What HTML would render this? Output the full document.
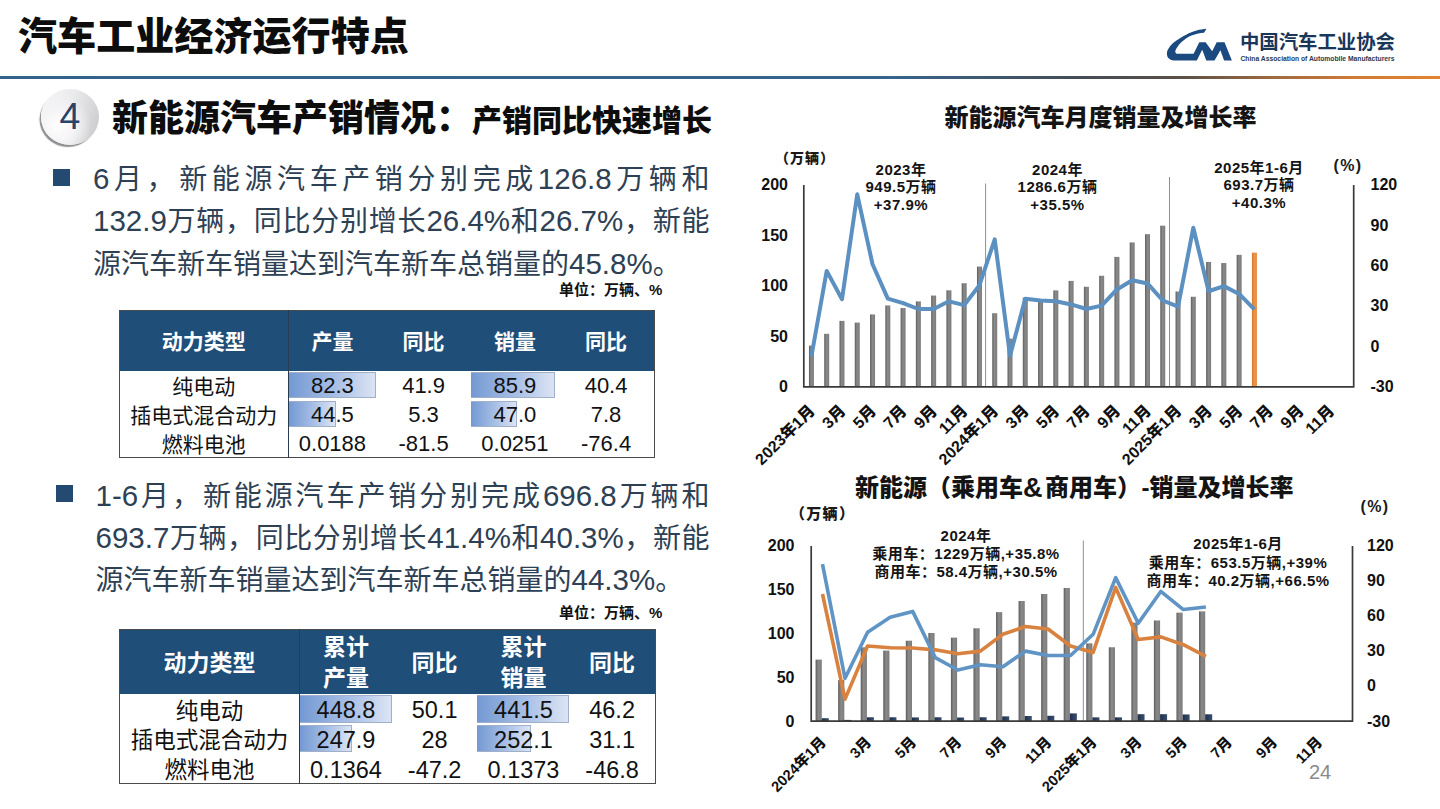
<!DOCTYPE html>
<html lang="zh-CN"><head><meta charset="utf-8"><title>汽车工业经济运行特点</title>
<style>
*{margin:0;padding:0;box-sizing:border-box}
html,body{width:1440px;height:809px;overflow:hidden;background:#fff}
body{position:relative;font-family:"Liberation Sans", "Noto Sans CJK SC", sans-serif;color:#111}
.abs{position:absolute;white-space:nowrap}
#title{left:18px;top:12.5px;font-size:39.1px;font-weight:900;line-height:48px;color:#0d0d0d}
#rule{left:0;top:76px;width:1440px;height:3px;background:linear-gradient(90deg,#35628a 0%,#37648c 62%,#454c55 75%,#5a5048 82%,#9a6840 88%,#d07a35 94%,#e4832e 100%)}
#circ{left:41px;top:88.5px;width:58px;height:56px;border-radius:50%;
  background:radial-gradient(circle at 30% 65%,#ffffff 0%,#f4f4f6 30%,rgba(230,230,233,0) 60%),linear-gradient(110deg,#f6f6f7 0%,#eaeaec 45%,#d4d4d7 80%,#c8c8cb 100%);
  box-shadow:-2px 2.5px 1px -0.5px rgba(70,70,70,.6)}
#circ span{position:absolute;left:0;width:58px;top:7px;text-align:center;font-family:"Liberation Sans",sans-serif;font-size:37.5px;line-height:40px;color:#2a4469}
#head{left:112px;top:96px;font-size:36px;font-weight:900;line-height:46px;color:#0d0d0d}
#head small{font-size:30px}
.bul{position:absolute;width:17px;height:17px;background:#254a72}
.para{position:absolute;width:620px;font-size:28px;line-height:42.3px;color:#2e4154}
.para div{text-align:justify;text-align-last:justify;white-space:nowrap}
.para div.last{text-align-last:left}
.para .n{font-size:29.5px;line-height:0}
.unit{font-size:15px;font-weight:700;color:#111;line-height:18px}
table{position:absolute;border-collapse:collapse;table-layout:fixed}
th{background:#1f4e79;color:#fff;font-weight:700;text-align:center;padding:2.5px 0 0 0;border:none}
td{text-align:center;padding:0;color:#111;position:relative;border:none}
td .bar{position:absolute;left:0;border:1px solid #9fb0c8;border-left:none;background:linear-gradient(90deg,#7399d3 0%,#a9c0e6 55%,#dce4f3 100%)}
td span{position:relative;top:2.5px}
.tb{border:1.5px solid #4a4a4a}
.c1{border-right:1.5px solid #2a3a50 !important}
</style></head><body>
<div id="title" class="abs">汽车工业经济运行特点</div>
<div id="rule" class="abs"></div>
<div id="circ" class="abs"><span>4</span></div>
<div id="head" class="abs">新能源汽车产销情况：<small>产销同比快速增长</small></div>

<div class="bul" style="left:53px;top:169px"></div>
<div class="para" style="left:93px;top:159px;width:616.5px">
<div><span class="n">6</span>月，新能源汽车产销分别完成<span class="n">126.8</span>万辆和</div>
<div><span class="n">132.9</span>万辆，同比分别增长<span class="n">26.4%</span>和<span class="n">26.7%</span>，新能</div>
<div class="last">源汽车新车销量达到汽车新车总销量的<span class="n">45.8%</span>。</div>
</div>
<div class="abs unit" style="left:559px;top:281px">单位：万辆、%</div>

<table class="tb" style="left:118.5px;top:309.5px;width:535.0px"><colgroup><col style="width:169.5px"><col style="width:91.375px"><col style="width:91.375px"><col style="width:91.375px"><col style="width:91.375px"></colgroup><tr style="height:60.5px"><th class="c1" style="font-size:21px;line-height:30.4px">动力类型</th><th style="font-size:21px;line-height:30.4px"><span style="position:relative;left:-2px">产量</span></th><th style="font-size:21px;line-height:30.4px"><span style="position:relative;left:-2px">同比</span></th><th style="font-size:21px;line-height:30.4px"><span style="position:relative;left:-2px">销量</span></th><th style="font-size:21px;line-height:30.4px"><span style="position:relative;left:-2px">同比</span></th></tr><tr style="height:28.8px"><td class="c1" style="font-size:21px;line-height:28.8px"><span>纯电动</span></td><td style="font-size:22px;line-height:28.8px"><div class="bar" style="width:87px;top:1.5px;height:26px"></div><span style="left:-2px;top:1.5px">82.3</span></td><td style="font-size:22px;line-height:28.8px"><span style="left:-2px;top:1.5px">41.9</span></td><td style="font-size:22px;line-height:28.8px"><div class="bar" style="width:83.5px;top:1.5px;height:26px"></div><span style="left:-2px;top:1.5px">85.9</span></td><td style="font-size:22px;line-height:28.8px"><span style="left:-2px;top:1.5px">40.4</span></td></tr><tr style="height:28.8px"><td class="c1" style="font-size:21px;line-height:28.8px"><span>插电式混合动力</span></td><td style="font-size:22px;line-height:28.8px"><div class="bar" style="width:47px;top:1.5px;height:26px"></div><span style="left:-2px;top:1.5px">44.5</span></td><td style="font-size:22px;line-height:28.8px"><span style="left:-2px;top:1.5px">5.3</span></td><td style="font-size:22px;line-height:28.8px"><div class="bar" style="width:45.5px;top:1.5px;height:26px"></div><span style="left:-2px;top:1.5px">47.0</span></td><td style="font-size:22px;line-height:28.8px"><span style="left:-2px;top:1.5px">7.8</span></td></tr><tr style="height:28.8px"><td class="c1" style="font-size:21px;line-height:28.8px"><span>燃料电池</span></td><td style="font-size:22px;line-height:28.8px"><span style="left:-2px;top:1.5px">0.0188</span></td><td style="font-size:22px;line-height:28.8px"><span style="left:-2px;top:1.5px">-81.5</span></td><td style="font-size:22px;line-height:28.8px"><span style="left:-2px;top:1.5px">0.0251</span></td><td style="font-size:22px;line-height:28.8px"><span style="left:-2px;top:1.5px">-76.4</span></td></tr></table>

<div class="bul" style="left:56px;top:485px"></div>
<div class="para" style="left:95.5px;top:475.5px;width:614px">
<div><span class="n">1-6</span>月，新能源汽车产销分别完成<span class="n">696.8</span>万辆和</div>
<div><span class="n">693.7</span>万辆，同比分别增长<span class="n">41.4%</span>和<span class="n">40.3%</span>，新能</div>
<div class="last">源汽车新车销量达到汽车新车总销量的<span class="n">44.3%</span>。</div>
</div>
<div class="abs unit" style="left:559px;top:604px">单位：万辆、%</div>

<table class="tb" style="left:119px;top:628.5px;width:535.5px"><colgroup><col style="width:180px"><col style="width:88.875px"><col style="width:88.875px"><col style="width:88.875px"><col style="width:88.875px"></colgroup><tr style="height:64.5px"><th class="c1" style="font-size:23px;line-height:31.0px">动力类型</th><th style="font-size:23px;line-height:31.0px"><span style="position:relative;left:1.8px">累计<br>产量</span></th><th style="font-size:23px;line-height:31.0px"><span style="position:relative;left:1.8px">同比</span></th><th style="font-size:23px;line-height:31.0px"><span style="position:relative;left:1.8px">累计<br>销量</span></th><th style="font-size:23px;line-height:31.0px"><span style="position:relative;left:1.8px">同比</span></th></tr><tr style="height:29.8px"><td class="c1" style="font-size:22.5px;line-height:29.8px"><span>纯电动</span></td><td style="font-size:23.5px;line-height:29.8px"><div class="bar" style="width:92px;top:1px;height:27.5px"></div><span style="left:1.8px;top:2.0px">448.8</span></td><td style="font-size:23.5px;line-height:29.8px"><span style="left:1.8px;top:2.0px">50.1</span></td><td style="font-size:23.5px;line-height:29.8px"><div class="bar" style="width:92px;top:1px;height:27.5px"></div><span style="left:1.8px;top:2.0px">441.5</span></td><td style="font-size:23.5px;line-height:29.8px"><span style="left:1.8px;top:2.0px">46.2</span></td></tr><tr style="height:29.8px"><td class="c1" style="font-size:22.5px;line-height:29.8px"><span>插电式混合动力</span></td><td style="font-size:23.5px;line-height:29.8px"><div class="bar" style="width:52px;top:1px;height:27.5px"></div><span style="left:1.8px;top:2.0px">247.9</span></td><td style="font-size:23.5px;line-height:29.8px"><span style="left:1.8px;top:2.0px">28</span></td><td style="font-size:23.5px;line-height:29.8px"><div class="bar" style="width:53.5px;top:1px;height:27.5px"></div><span style="left:1.8px;top:2.0px">252.1</span></td><td style="font-size:23.5px;line-height:29.8px"><span style="left:1.8px;top:2.0px">31.1</span></td></tr><tr style="height:29.8px"><td class="c1" style="font-size:22.5px;line-height:29.8px"><span>燃料电池</span></td><td style="font-size:23.5px;line-height:29.8px"><span style="left:1.8px;top:2.0px">0.1364</span></td><td style="font-size:23.5px;line-height:29.8px"><span style="left:1.8px;top:2.0px">-47.2</span></td><td style="font-size:23.5px;line-height:29.8px"><span style="left:1.8px;top:2.0px">0.1373</span></td><td style="font-size:23.5px;line-height:29.8px"><span style="left:1.8px;top:2.0px">-46.8</span></td></tr></table>

<svg class="abs" style="left:0;top:0" width="1440" height="809" viewBox="0 0 1440 809" font-family='&quot;Liberation Sans&quot;, &quot;Noto Sans CJK SC&quot;, sans-serif'>
<defs><linearGradient id="gb" x1="0" x2="1" y1="0" y2="0"><stop offset="0" stop-color="#5e5e5e"/><stop offset="0.45" stop-color="#8a8a8a"/><stop offset="1" stop-color="#7c7c7c"/></linearGradient><linearGradient id="go" x1="0" x2="1" y1="0" y2="0"><stop offset="0" stop-color="#d9772a"/><stop offset="0.5" stop-color="#ec9448"/><stop offset="1" stop-color="#e38a3c"/></linearGradient><linearGradient id="gn" x1="0" x2="1" y1="0" y2="0"><stop offset="0" stop-color="#1f2f4a"/><stop offset="1" stop-color="#3a4f70"/></linearGradient></defs>
<text x="1100.5" y="126" text-anchor="middle" font-size="24" font-weight="900" fill="#141414">新能源汽车月度销量及增长率</text>
<text x="775" y="162.5" font-size="14" letter-spacing="1" font-weight="900" fill="#1a1a1a">（万辆）</text>
<text x="1333.5" y="170.5" font-size="16" letter-spacing="1.3" font-weight="700" fill="#1a1a1a" font-family="Liberation Sans">(%)</text>
<text x="788" y="392.1" text-anchor="end" font-size="16" font-weight="700" fill="#111">0</text>
<text x="788" y="341.62" text-anchor="end" font-size="16" font-weight="700" fill="#111">50</text>
<text x="788" y="291.15" text-anchor="end" font-size="16" font-weight="700" fill="#111">100</text>
<text x="788" y="240.68" text-anchor="end" font-size="16" font-weight="700" fill="#111">150</text>
<text x="788" y="190.2" text-anchor="end" font-size="16" font-weight="700" fill="#111">200</text>
<text x="1370.5" y="392.1" font-size="16" font-weight="700" fill="#111">-30</text>
<text x="1370.5" y="351.72" font-size="16" font-weight="700" fill="#111">0</text>
<text x="1370.5" y="311.34" font-size="16" font-weight="700" fill="#111">30</text>
<text x="1370.5" y="270.96" font-size="16" font-weight="700" fill="#111">60</text>
<text x="1370.5" y="230.58" font-size="16" font-weight="700" fill="#111">90</text>
<text x="1370.5" y="190.2" font-size="16" font-weight="700" fill="#111">120</text>
<line x1="985.6" y1="183.5" x2="985.6" y2="386.8" stroke="#8a9099" stroke-width="1"/>
<line x1="1169.5" y1="177" x2="1169.5" y2="386.8" stroke="#8a9099" stroke-width="1"/>
<rect x="808.94" y="345.61" width="5.0" height="41.19" fill="url(#gb)"/>
<rect x="824.21" y="333.8" width="5.0" height="53" fill="url(#gb)"/>
<rect x="839.49" y="320.88" width="5.0" height="65.92" fill="url(#gb)"/>
<rect x="854.76" y="322.6" width="5.0" height="64.2" fill="url(#gb)"/>
<rect x="870.04" y="314.42" width="5.0" height="72.38" fill="url(#gb)"/>
<rect x="885.31" y="305.43" width="5.0" height="81.37" fill="url(#gb)"/>
<rect x="900.59" y="308.06" width="5.0" height="78.74" fill="url(#gb)"/>
<rect x="915.86" y="301.4" width="5.0" height="85.4" fill="url(#gb)"/>
<rect x="931.14" y="295.54" width="5.0" height="91.26" fill="url(#gb)"/>
<rect x="946.41" y="290.29" width="5.0" height="96.51" fill="url(#gb)"/>
<rect x="961.69" y="283.23" width="5.0" height="103.57" fill="url(#gb)"/>
<rect x="976.96" y="266.57" width="5.0" height="120.23" fill="url(#gb)"/>
<rect x="992.24" y="313.21" width="5.0" height="73.59" fill="url(#gb)"/>
<rect x="1007.51" y="338.65" width="5.0" height="48.15" fill="url(#gb)"/>
<rect x="1022.79" y="297.66" width="5.0" height="89.14" fill="url(#gb)"/>
<rect x="1038.06" y="300.99" width="5.0" height="85.81" fill="url(#gb)"/>
<rect x="1053.34" y="290.39" width="5.0" height="96.41" fill="url(#gb)"/>
<rect x="1068.61" y="280.9" width="5.0" height="105.9" fill="url(#gb)"/>
<rect x="1083.89" y="286.76" width="5.0" height="100.04" fill="url(#gb)"/>
<rect x="1099.16" y="275.75" width="5.0" height="111.05" fill="url(#gb)"/>
<rect x="1114.44" y="256.88" width="5.0" height="129.92" fill="url(#gb)"/>
<rect x="1129.71" y="242.44" width="5.0" height="144.36" fill="url(#gb)"/>
<rect x="1144.99" y="234.16" width="5.0" height="152.64" fill="url(#gb)"/>
<rect x="1160.26" y="225.68" width="5.0" height="161.12" fill="url(#gb)"/>
<rect x="1175.54" y="291.5" width="5.0" height="95.3" fill="url(#gb)"/>
<rect x="1190.81" y="296.75" width="5.0" height="90.05" fill="url(#gb)"/>
<rect x="1206.09" y="261.92" width="5.0" height="124.88" fill="url(#gb)"/>
<rect x="1221.36" y="263.04" width="5.0" height="123.76" fill="url(#gb)"/>
<rect x="1236.64" y="254.86" width="5.0" height="131.94" fill="url(#gb)"/>
<rect x="1251.91" y="252.64" width="5.0" height="134.16" fill="url(#go)"/>
<polyline points="811.44,356.25 826.71,270.91 841.99,299.18 857.26,194.32 872.54,264.31 887.81,298.64 903.09,303.08 918.36,309 933.64,309 948.91,301.33 964.19,305.1 979.46,285.18 994.74,239.41 1010.01,355.84 1025.29,298.64 1040.56,300.52 1055.84,301.33 1071.11,304.42 1086.39,309 1101.66,305.64 1116.94,289.48 1132.21,280.2 1147.49,283.43 1162.76,300.52 1178.04,306.71 1193.31,227.7 1208.59,291.23 1223.86,286.12 1239.14,293.93 1254.41,309.41" fill="none" stroke="#5b90c1" stroke-width="4" stroke-linejoin="round" stroke-linecap="butt"/>
<path d="M803.8,184.9 V386.8 H1353.7 V184.9" fill="none" stroke="#3a3a3a" stroke-width="1.7"/>
<text x="901" y="174.5" text-anchor="middle" font-size="15" font-weight="700" fill="#141414" letter-spacing="0.5">2023年</text><text x="901" y="192.1" text-anchor="middle" font-size="15" font-weight="700" fill="#141414" letter-spacing="0.5">949.5万辆</text><text x="901" y="209.7" text-anchor="middle" font-size="15" font-weight="700" fill="#141414" letter-spacing="0.5">+37.9%</text>
<text x="1057.5" y="174.5" text-anchor="middle" font-size="15" font-weight="700" fill="#141414" letter-spacing="0.5">2024年</text><text x="1057.5" y="192.1" text-anchor="middle" font-size="15" font-weight="700" fill="#141414" letter-spacing="0.5">1286.6万辆</text><text x="1057.5" y="209.7" text-anchor="middle" font-size="15" font-weight="700" fill="#141414" letter-spacing="0.5">+35.5%</text>
<text x="1259" y="172.5" text-anchor="middle" font-size="15" font-weight="700" fill="#141414" letter-spacing="0.5">2025年1-6月</text><text x="1259" y="190.1" text-anchor="middle" font-size="15" font-weight="700" fill="#141414" letter-spacing="0.5">693.7万辆</text><text x="1259" y="207.7" text-anchor="middle" font-size="15" font-weight="700" fill="#141414" letter-spacing="0.5">+40.3%</text>
<text x="815.94" y="411.8" text-anchor="end" font-size="16" font-weight="900" fill="#111" transform="rotate(-45 815.94 411.8)">2023年1月</text>
<text x="846.49" y="411.8" text-anchor="end" font-size="16" font-weight="900" fill="#111" transform="rotate(-45 846.49 411.8)">3月</text>
<text x="877.04" y="411.8" text-anchor="end" font-size="16" font-weight="900" fill="#111" transform="rotate(-45 877.04 411.8)">5月</text>
<text x="907.59" y="411.8" text-anchor="end" font-size="16" font-weight="900" fill="#111" transform="rotate(-45 907.59 411.8)">7月</text>
<text x="938.14" y="411.8" text-anchor="end" font-size="16" font-weight="900" fill="#111" transform="rotate(-45 938.14 411.8)">9月</text>
<text x="968.69" y="411.8" text-anchor="end" font-size="16" font-weight="900" fill="#111" transform="rotate(-45 968.69 411.8)">11月</text>
<text x="999.24" y="411.8" text-anchor="end" font-size="16" font-weight="900" fill="#111" transform="rotate(-45 999.24 411.8)">2024年1月</text>
<text x="1029.79" y="411.8" text-anchor="end" font-size="16" font-weight="900" fill="#111" transform="rotate(-45 1029.79 411.8)">3月</text>
<text x="1060.34" y="411.8" text-anchor="end" font-size="16" font-weight="900" fill="#111" transform="rotate(-45 1060.34 411.8)">5月</text>
<text x="1090.89" y="411.8" text-anchor="end" font-size="16" font-weight="900" fill="#111" transform="rotate(-45 1090.89 411.8)">7月</text>
<text x="1121.44" y="411.8" text-anchor="end" font-size="16" font-weight="900" fill="#111" transform="rotate(-45 1121.44 411.8)">9月</text>
<text x="1151.99" y="411.8" text-anchor="end" font-size="16" font-weight="900" fill="#111" transform="rotate(-45 1151.99 411.8)">11月</text>
<text x="1182.54" y="411.8" text-anchor="end" font-size="16" font-weight="900" fill="#111" transform="rotate(-45 1182.54 411.8)">2025年1月</text>
<text x="1213.09" y="411.8" text-anchor="end" font-size="16" font-weight="900" fill="#111" transform="rotate(-45 1213.09 411.8)">3月</text>
<text x="1243.64" y="411.8" text-anchor="end" font-size="16" font-weight="900" fill="#111" transform="rotate(-45 1243.64 411.8)">5月</text>
<text x="1274.19" y="411.8" text-anchor="end" font-size="16" font-weight="900" fill="#111" transform="rotate(-45 1274.19 411.8)">7月</text>
<text x="1304.74" y="411.8" text-anchor="end" font-size="16" font-weight="900" fill="#111" transform="rotate(-45 1304.74 411.8)">9月</text>
<text x="1335.29" y="411.8" text-anchor="end" font-size="16" font-weight="900" fill="#111" transform="rotate(-45 1335.29 411.8)">11月</text>
<text x="855" y="496" font-size="24" font-weight="900" fill="#141414">新能源（乘用车<tspan font-size="27" dy="0.5">&amp;</tspan><tspan x="1045" dy="-0.5">商用车）</tspan></text>
<text x="1141.5" y="496" font-size="24" font-weight="900" fill="#141414">-销量及增长率</text>
<text x="790" y="518.5" font-size="15" letter-spacing="1.3" font-weight="900" fill="#1a1a1a">（万辆）</text>
<text x="1360.5" y="512.2" font-size="16" letter-spacing="1.3" font-weight="700" fill="#1a1a1a" font-family="Liberation Sans">(%)</text>
<text x="794.5" y="726.5" text-anchor="end" font-size="16" font-weight="700" fill="#111">0</text>
<text x="794.5" y="682.7" text-anchor="end" font-size="16" font-weight="700" fill="#111">50</text>
<text x="794.5" y="638.9" text-anchor="end" font-size="16" font-weight="700" fill="#111">100</text>
<text x="794.5" y="595.1" text-anchor="end" font-size="16" font-weight="700" fill="#111">150</text>
<text x="794.5" y="551.3" text-anchor="end" font-size="16" font-weight="700" fill="#111">200</text>
<text x="1367" y="726.5" font-size="16" font-weight="700" fill="#111">-30</text>
<text x="1367" y="691.46" font-size="16" font-weight="700" fill="#111">0</text>
<text x="1367" y="656.42" font-size="16" font-weight="700" fill="#111">30</text>
<text x="1367" y="621.38" font-size="16" font-weight="700" fill="#111">60</text>
<text x="1367" y="586.34" font-size="16" font-weight="700" fill="#111">90</text>
<text x="1367" y="551.3" font-size="16" font-weight="700" fill="#111">120</text>
<line x1="1083.3" y1="540.5" x2="1083.3" y2="721.2" stroke="#8a9099" stroke-width="1"/>
<rect x="815.58" y="659.62" width="6.2" height="61.58" fill="url(#gb)"/>
<rect x="838.13" y="680.03" width="6.2" height="41.17" fill="url(#gb)"/>
<rect x="860.69" y="647.27" width="6.2" height="73.93" fill="url(#gb)"/>
<rect x="883.24" y="650.59" width="6.2" height="70.61" fill="url(#gb)"/>
<rect x="905.79" y="640.7" width="6.2" height="80.5" fill="url(#gb)"/>
<rect x="928.35" y="632.99" width="6.2" height="88.21" fill="url(#gb)"/>
<rect x="950.9" y="637.63" width="6.2" height="83.57" fill="url(#gb)"/>
<rect x="973.46" y="628.26" width="6.2" height="92.94" fill="url(#gb)"/>
<rect x="996.01" y="612.14" width="6.2" height="109.06" fill="url(#gb)"/>
<rect x="1018.56" y="601.01" width="6.2" height="120.19" fill="url(#gb)"/>
<rect x="1041.12" y="594" width="6.2" height="127.2" fill="url(#gb)"/>
<rect x="1063.67" y="587.96" width="6.2" height="133.24" fill="url(#gb)"/>
<rect x="1086.23" y="643.32" width="6.2" height="77.88" fill="url(#gb)"/>
<rect x="1108.78" y="647.27" width="6.2" height="73.93" fill="url(#gb)"/>
<rect x="1131.34" y="622.56" width="6.2" height="98.64" fill="url(#gb)"/>
<rect x="1153.89" y="620.46" width="6.2" height="100.74" fill="url(#gb)"/>
<rect x="1176.44" y="612.66" width="6.2" height="108.54" fill="url(#gb)"/>
<rect x="1199" y="611.35" width="6.2" height="109.85" fill="url(#gb)"/>
<rect x="821.78" y="718.22" width="7" height="2.98" fill="url(#gn)"/>
<rect x="844.33" y="719.89" width="7" height="1.31" fill="url(#gn)"/>
<rect x="866.89" y="717.26" width="7" height="3.94" fill="url(#gn)"/>
<rect x="889.44" y="717.26" width="7" height="3.94" fill="url(#gn)"/>
<rect x="911.99" y="717.43" width="7" height="3.77" fill="url(#gn)"/>
<rect x="934.55" y="717.26" width="7" height="3.94" fill="url(#gn)"/>
<rect x="957.1" y="717.52" width="7" height="3.68" fill="url(#gn)"/>
<rect x="979.66" y="717.26" width="7" height="3.94" fill="url(#gn)"/>
<rect x="1002.21" y="716.38" width="7" height="4.82" fill="url(#gn)"/>
<rect x="1024.76" y="716.03" width="7" height="5.17" fill="url(#gn)"/>
<rect x="1047.32" y="715.77" width="7" height="5.43" fill="url(#gn)"/>
<rect x="1069.87" y="713.4" width="7" height="7.8" fill="url(#gn)"/>
<rect x="1092.43" y="717.35" width="7" height="3.85" fill="url(#gn)"/>
<rect x="1114.98" y="717.35" width="7" height="3.85" fill="url(#gn)"/>
<rect x="1137.54" y="714.19" width="7" height="7.01" fill="url(#gn)"/>
<rect x="1160.09" y="714.19" width="7" height="7.01" fill="url(#gn)"/>
<rect x="1182.64" y="714.45" width="7" height="6.75" fill="url(#gn)"/>
<rect x="1205.2" y="714.28" width="7" height="6.92" fill="url(#gn)"/>
<polyline points="822.48,594 845.03,699.12 867.59,645.98 890.14,647.73 912.69,647.97 935.25,649.84 957.8,653.69 980.36,651.12 1002.91,634.3 1025.46,626.48 1048.02,629.04 1070.57,645.98 1093.13,652.4 1115.68,587.46 1138.24,639.44 1160.79,636.87 1183.34,644.7 1205.9,656.38" fill="none" stroke="#d9823f" stroke-width="3.6" stroke-linejoin="round"/>
<polyline points="822.48,564.22 845.03,678.33 867.59,632.2 890.14,617.36 912.69,611.41 935.25,657.66 957.8,670.04 980.36,664.79 1002.91,666.77 1025.46,651.12 1048.02,655.56 1070.57,655.56 1093.13,634.3 1115.68,577.65 1138.24,623.32 1160.79,591.44 1183.34,609.54 1205.9,606.97" fill="none" stroke="#5f94c4" stroke-width="3.6" stroke-linejoin="round"/>
<path d="M811.2,546.0 V721.2 H1352.5 V546.0" fill="none" stroke="#3a3a3a" stroke-width="1.7"/>
<text x="966" y="541" text-anchor="middle" font-size="15" font-weight="700" fill="#141414" letter-spacing="0.5">2024年</text><text x="966" y="559" text-anchor="middle" font-size="15" font-weight="700" fill="#141414" letter-spacing="0.5">乘用车：1229万辆,+35.8%</text><text x="966" y="577" text-anchor="middle" font-size="15" font-weight="700" fill="#141414" letter-spacing="0.5">商用车：58.4万辆,+30.5%</text>
<text x="1238" y="549" text-anchor="middle" font-size="15" font-weight="700" fill="#141414" letter-spacing="0.5">2025年1-6月</text><text x="1238" y="567.5" text-anchor="middle" font-size="15" font-weight="700" fill="#141414" letter-spacing="0.5">乘用车：653.5万辆,+39%</text><text x="1238" y="586" text-anchor="middle" font-size="15" font-weight="700" fill="#141414" letter-spacing="0.5">商用车：40.2万辆,+66.5%</text>
<text x="826.98" y="743.2" text-anchor="end" font-size="14.7" font-weight="900" fill="#111" transform="rotate(-45 826.98 743.2)">2024年1月</text>
<text x="872.09" y="743.2" text-anchor="end" font-size="14.7" font-weight="900" fill="#111" transform="rotate(-45 872.09 743.2)">3月</text>
<text x="917.19" y="743.2" text-anchor="end" font-size="14.7" font-weight="900" fill="#111" transform="rotate(-45 917.19 743.2)">5月</text>
<text x="962.3" y="743.2" text-anchor="end" font-size="14.7" font-weight="900" fill="#111" transform="rotate(-45 962.3 743.2)">7月</text>
<text x="1007.41" y="743.2" text-anchor="end" font-size="14.7" font-weight="900" fill="#111" transform="rotate(-45 1007.41 743.2)">9月</text>
<text x="1052.52" y="743.2" text-anchor="end" font-size="14.7" font-weight="900" fill="#111" transform="rotate(-45 1052.52 743.2)">11月</text>
<text x="1097.63" y="743.2" text-anchor="end" font-size="14.7" font-weight="900" fill="#111" transform="rotate(-45 1097.63 743.2)">2025年1月</text>
<text x="1142.74" y="743.2" text-anchor="end" font-size="14.7" font-weight="900" fill="#111" transform="rotate(-45 1142.74 743.2)">3月</text>
<text x="1187.84" y="743.2" text-anchor="end" font-size="14.7" font-weight="900" fill="#111" transform="rotate(-45 1187.84 743.2)">5月</text>
<text x="1232.95" y="743.2" text-anchor="end" font-size="14.7" font-weight="900" fill="#111" transform="rotate(-45 1232.95 743.2)">7月</text>
<text x="1278.06" y="743.2" text-anchor="end" font-size="14.7" font-weight="900" fill="#111" transform="rotate(-45 1278.06 743.2)">9月</text>
<text x="1323.17" y="743.2" text-anchor="end" font-size="14.7" font-weight="900" fill="#111" transform="rotate(-45 1323.17 743.2)">11月</text>
<path d="M1206.5,28.7 L1204,32.7 C1196,33.3 1189,36 1185.7,38.8 C1181,42 1178.3,45.7 1178.3,45.7 C1176.5,48 1175,50.5 1175.3,51.7 C1175.5,53 1176.2,53.7 1176.8,53.7 L1193.6,53.7 L1199.3,42.3 L1205.6,42.3 L1212.2,51.3 L1216.7,42.3 L1224.5,42.3 L1231.9,60.6 L1224.1,60.6 L1220.4,50.2 L1214.5,60.6 L1206.3,60.6 L1202.2,49.8 L1196.8,60.6 L1174.9,60.6 C1172,60.6 1168,59 1167.2,56 C1166.5,53 1167,50 1169.4,47.2 C1172,43.5 1176.8,40.3 1176.8,40.3 C1182,36.5 1190,32 1196.6,30.4 C1200,29.5 1203,29 1206.5,28.7 Z" fill="#1b4a80"/>
<text x="1240" y="49" font-size="19.4" font-weight="700" fill="#1a3658" textLength="155" lengthAdjust="spacingAndGlyphs">中国汽车工业协会</text>
<text x="1240.5" y="60.6" font-size="6.4" font-weight="700" fill="#2a3a50" font-family="Liberation Sans" textLength="154" lengthAdjust="spacingAndGlyphs">China Association of Automobile Manufacturers</text>
<text x="1309" y="779" font-size="20" fill="#8a8a8a" font-family="Liberation Sans">24</text>
</svg>
</body></html>
